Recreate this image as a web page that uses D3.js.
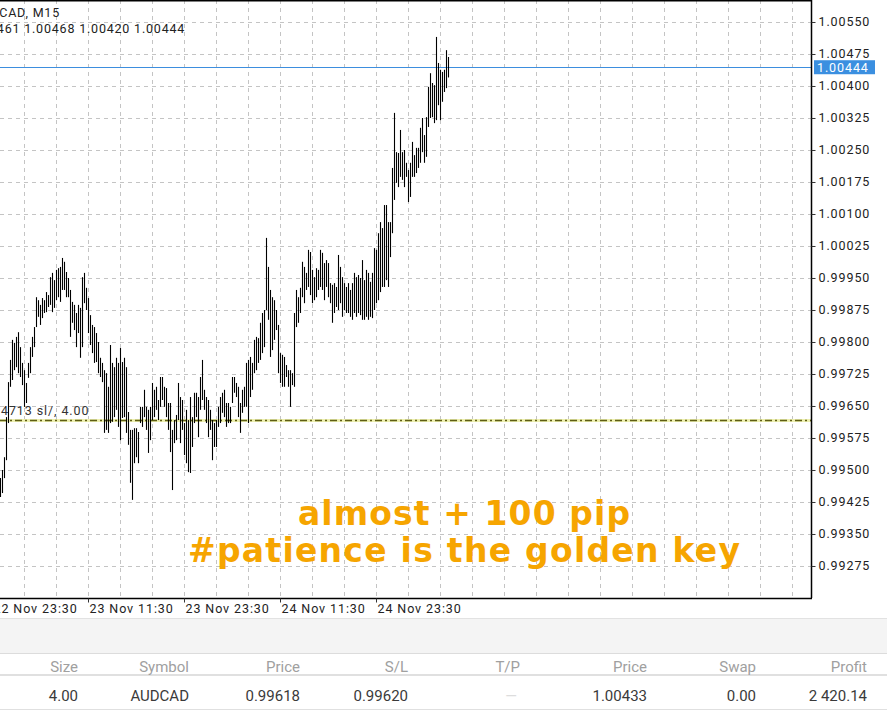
<!DOCTYPE html>
<html><head><meta charset="utf-8">
<script src="https://cdn.jsdelivr.net/npm/d3@7"></script>
<style>body{margin:0;background:#fff;} svg{display:block}</style>
</head><body>
<svg id="c" width="887" height="717"></svg>
<script>
// ---------- DATA ----------
const symbolTitle = "AUDCAD, M15";
const lastOHLC = ["1.00461", "1.00468", "1.00420", "1.00444"];
const firstBarTime = "2020-11-23T00:30";
const highs = [
0.99481,0.99500,0.99530,0.99624,0.99706,0.99758,0.99805,0.99798,0.99812,0.99823,
0.99788,0.99751,0.99734,0.99704,0.99751,0.99788,0.99812,0.99835,0.99905,0.99898,
0.99887,0.99903,0.99898,0.99917,0.99910,0.99952,0.99962,0.99945,0.99969,0.99973,
0.99976,0.99997,0.99988,0.99964,0.99950,0.99922,0.99894,0.99887,0.99868,0.99887,
0.99880,0.99952,0.99962,0.99927,0.99903,0.99863,0.99840,0.99835,0.99821,0.99800,
0.99763,0.99751,0.99734,0.99727,0.99695,0.99793,0.99751,0.99741,0.99763,0.99751,
0.99786,0.99753,0.99763,0.99741,0.99636,0.99594,0.99594,0.99598,0.99598,0.99589,
0.99648,0.99648,0.99688,0.99648,0.99641,
0.99648,0.99704,0.99688,0.99695,0.99664,0.99718,0.99718,0.99695,0.99692,0.99657,
0.99657,0.99594,0.99617,0.99629,0.99704,0.99671,0.99664,0.99610,0.99641,0.99617,
0.99671,0.99624,0.99681,0.99681,0.99671,0.99718,0.99758,0.99688,0.99671,0.99664,
0.99641,0.99617,0.99610,0.99617,0.99648,0.99671,0.99681,0.99688,0.99657,0.99657,
0.99648,0.99718,0.99718,0.99704,0.99695,0.99657,0.99688,0.99695,0.99751,0.99758,
0.99765,0.99751,0.99805,0.99812,0.99809,0.99845,0.99868,0.99875,1.00044,0.99976,
0.99922,0.99905,0.99898,0.99875,0.99840,0.99774,0.99770,0.99765,0.99746,0.99734,
0.99734,0.99727,0.99868,0.99922,0.99905,
0.99927,0.99988,0.99976,0.99962,1.00016,1.00011,0.99969,0.99952,0.99973,0.99969,
1.00016,1.00009,0.99985,0.99992,0.99985,0.99938,0.99934,0.99938,0.99929,1.00004,
0.99976,0.99952,0.99938,0.99929,0.99938,0.99922,0.99938,0.99962,0.99952,0.99957,
0.99950,0.99992,0.99945,0.99969,0.99962,0.99941,0.99962,1.00020,1.00016,1.00055,
1.00081,1.00067,1.00121,1.00121,1.00081,1.00081,1.00208,1.00337,1.00245,1.00243,
1.00297,1.00245,1.00250,1.00220,1.00203,1.00220,1.00269,1.00238,1.00255,1.00255,
1.00302,1.00325,1.00285,1.00327,1.00398,1.00430,1.00407,1.00402,1.00515,1.00454,
1.00438,1.00433,1.00438,1.00484,1.00468
];
const lows = [
0.99437,0.99446,0.99481,0.99523,0.99610,0.99695,0.99711,0.99734,0.99741,0.99727,
0.99718,0.99699,0.99648,0.99657,0.99716,0.99727,0.99765,0.99788,0.99835,0.99859,
0.99840,0.99856,0.99868,0.99870,0.99882,0.99887,0.99870,0.99880,0.99898,0.99905,
0.99894,0.99922,0.99922,0.99905,0.99905,0.99812,0.99845,0.99828,0.99788,0.99821,
0.99763,0.99788,0.99891,0.99875,0.99821,0.99793,0.99774,0.99751,0.99753,0.99727,
0.99718,0.99706,0.99587,0.99594,0.99587,0.99610,0.99613,0.99624,0.99641,0.99601,
0.99570,0.99622,0.99624,0.99587,0.99559,0.99470,0.99430,0.99516,0.99530,0.99516,
0.99610,0.99601,0.99624,0.99594,0.99540,
0.99570,0.99617,0.99624,0.99641,0.99617,0.99648,0.99664,0.99648,0.99624,0.99594,
0.99542,0.99453,0.99563,0.99570,0.99617,0.99563,0.99594,0.99535,0.99516,0.99495,
0.99493,0.99554,0.99610,0.99624,0.99577,0.99641,0.99664,0.99641,0.99610,0.99577,
0.99594,0.99523,0.99554,0.99554,0.99601,0.99610,0.99634,0.99624,0.99601,0.99610,
0.99610,0.99657,0.99681,0.99671,0.99624,0.99587,0.99634,0.99648,0.99648,0.99610,
0.99671,0.99688,0.99727,0.99734,0.99751,0.99758,0.99774,0.99788,0.99875,0.99852,
0.99765,0.99781,0.99805,0.99828,0.99727,0.99704,0.99695,0.99695,0.99718,0.99695,
0.99648,0.99699,0.99695,0.99835,0.99845,
0.99868,0.99905,0.99891,0.99922,0.99929,0.99910,0.99891,0.99898,0.99905,0.99922,
0.99929,0.99922,0.99898,0.99929,0.99905,0.99891,0.99845,0.99868,0.99882,0.99875,
0.99891,0.99859,0.99875,0.99868,0.99868,0.99859,0.99852,0.99868,0.99859,0.99868,
0.99863,0.99852,0.99852,0.99859,0.99852,0.99859,0.99856,0.99875,0.99891,0.99898,
0.99917,0.99929,0.99929,0.99945,0.99929,0.99999,1.00055,1.00133,1.00173,1.00163,
1.00187,1.00180,1.00163,1.00187,1.00128,1.00140,1.00187,1.00187,1.00196,1.00208,
1.00220,1.00245,1.00220,1.00234,1.00304,1.00325,1.00327,1.00313,1.00320,1.00355,
1.00320,1.00363,1.00386,1.00395,1.00420
];
const priceTicks = [0.99275,0.99350,0.99425,0.99500,0.99575,0.99650,0.99725,0.99800,0.99875,
  0.99950,1.00025,1.00100,1.00175,1.00250,1.00325,1.00400,1.00475,1.00550];
const timeLabelTicks = ["2020-11-22T23:30","2020-11-23T11:30","2020-11-23T23:30","2020-11-24T11:30","2020-11-24T23:30"];
const currentPrice = 1.00444;
const slPrice = 0.99618;
const slLabel = "4713 sl/, 4.00";
const captions = ["almost + 100 pip", "#patience is the golden key"];
const tableHeaders = ["Size","Symbol","Price","S/L","T/P","Price","Swap","Profit"];
const tableRow = ["4.00","AUDCAD","0.99618","0.99620","\u2014","1.00433","0.00","2 420.14"];

// ---------- LAYOUT ----------
const svg = d3.select("#c");
svg.append("rect").attr("width",887).attr("height",717).attr("fill","#fff");
const R = 811, B = 598;
const barMs = 15*60*1000;
const parse = d3.utcParse("%Y-%m-%dT%H:%M");
const t0 = parse(firstBarTime);
const x = d3.scaleUtc().domain([t0, new Date(+t0 + 405*barMs)]).range([0, 810]);
const y = d3.scaleLinear().domain([0.99200, 1.0060156]).range([B, 0]);
const font = "Roboto, 'DejaVu Sans', sans-serif";

svg.append("defs").append("clipPath").attr("id","pc")
  .append("rect").attr("x",0).attr("y",0).attr("width",R).attr("height",B);
const plot = svg.append("g").attr("clip-path","url(#pc)");

// grid
const gridTimes = d3.range(+parse("2020-11-22T23:30"), +x.domain()[1], 4*3600*1000).map(d=>new Date(d));
plot.selectAll(".vg").data(gridTimes).join("line")
  .attr("x1",d=>Math.round(x(d))+0.5).attr("x2",d=>Math.round(x(d))+0.5)
  .attr("y1",0).attr("y2",B)
  .attr("stroke","#c4c4c4").attr("stroke-dasharray","4,4");
plot.selectAll(".hg").data(priceTicks).join("line")
  .attr("x1",0).attr("x2",R)
  .attr("y1",d=>Math.round(y(d))+0.5).attr("y2",d=>Math.round(y(d))+0.5)
  .attr("stroke","#c4c4c4").attr("stroke-dasharray","4,4");

// current price line
plot.append("line").attr("x1",0).attr("x2",R)
  .attr("y1",Math.round(y(currentPrice))+0.5).attr("y2",Math.round(y(currentPrice))+0.5)
  .attr("stroke","#3d8ede").attr("stroke-width",1.2);

// SL line
plot.append("line").attr("x1",0).attr("x2",R)
  .attr("y1",Math.round(y(slPrice))+0.5).attr("y2",Math.round(y(slPrice))+0.5)
  .attr("stroke","#eef0b0").attr("stroke-width",3);
plot.append("line").attr("x1",0).attr("x2",R)
  .attr("y1",Math.round(y(slPrice))+0.5).attr("y2",Math.round(y(slPrice))+0.5)
  .attr("stroke","#5e5e14").attr("stroke-width",1.5).attr("stroke-dasharray","7,3,2,3");
plot.append("text").attr("x",1).attr("y",Math.round(y(slPrice))-5)
  .attr("font-family",font).attr("font-size",12.5).attr("letter-spacing",0.9)
  .attr("fill","#333").text(slLabel);

// bars
const bars = highs.map((h,i)=>({t:new Date(+t0 + i*barMs), h, l:lows[i]}));
plot.selectAll(".bar").data(bars).join("line")
  .attr("x1",d=>Math.round(x(d.t))+0.5).attr("x2",d=>Math.round(x(d.t))+0.5)
  .attr("y1",d=>y(d.h)).attr("y2",d=>y(d.l))
  .attr("stroke","#000").attr("stroke-width",1.1);

// header text
const hdr = plot.append("g").attr("font-family",font).attr("font-size",12.5).attr("letter-spacing",0.8).attr("fill","#222");
const t1 = hdr.append("text").attr("y",17).text(symbolTitle);
const pre1 = hdr.append("text").attr("opacity",0).text("AUD");
t1.attr("x", 0 - pre1.node().getComputedTextLength() - 0.8);
const t2 = hdr.append("text").attr("y",33).text(lastOHLC.join(" "));
const pre2 = hdr.append("text").attr("opacity",0).text("1.00");
t2.attr("x", 0 - pre2.node().getComputedTextLength() - 3.2);
pre1.remove(); pre2.remove();

// borders
svg.append("line").attr("x1",0).attr("x2",R+1).attr("y1",0.75).attr("y2",0.75).attr("stroke","#000").attr("stroke-width",1.5);

// right axis
const yAxis = d3.axisRight(y).tickValues(priceTicks).tickSize(4).tickPadding(3)
  .tickFormat(d3.format(".5f"));
const ya = svg.append("g").attr("transform",`translate(${R+0.5},0)`).call(yAxis);
ya.select(".domain").attr("d",`M0,0V${B}`).attr("stroke","#000").attr("stroke-width",1.5);
ya.selectAll(".tick line").attr("stroke","#333");
ya.selectAll("text").attr("font-family",font).attr("font-size",12.5).attr("letter-spacing",0.9).attr("fill","#222");

// bottom axis
const xAxis = d3.axisBottom(x).tickValues(timeLabelTicks.map(parse)).tickSize(4).tickPadding(4)
  .tickFormat(d3.utcFormat("%d %b %H:%M"));
const xa = svg.append("g").attr("transform",`translate(0,${B+0.5})`).call(xAxis);
xa.select(".domain").attr("d",`M0,0H${R+1}`).attr("stroke","#000").attr("stroke-width",1.5);
xa.selectAll(".tick line").attr("stroke","#333");
xa.selectAll("text").attr("text-anchor","start").attr("dx",1).attr("dy","0.5em")
  .attr("font-family",font).attr("font-size",12.5).attr("letter-spacing",0.9).attr("fill","#222");

// current price label box
const cy = y(currentPrice);
svg.append("rect").attr("x",R+3).attr("y",cy-7).attr("width",61).attr("height",14).attr("fill","#3b8fe0");
svg.append("text").attr("x",R+6).attr("y",cy+4.5).attr("font-family",font).attr("font-size",12.5)
  .attr("letter-spacing",0.9).attr("fill","#fff").text(d3.format(".5f")(currentPrice));

// captions
const cap = svg.append("g").attr("font-family","'DejaVu Sans', sans-serif").attr("font-weight","bold")
  .attr("font-size",33).attr("fill","#f6a500");
cap.append("text").attr("x",298).attr("y",525).attr("textLength",332).text(captions[0]);
cap.append("text").attr("x",188).attr("y",562).attr("textLength",552).text(captions[1]);

// table
svg.append("rect").attr("x",0).attr("y",618).attr("width",887).attr("height",35).attr("fill","#f4f4f4");
svg.append("line").attr("x1",0).attr("x2",887).attr("y1",618.5).attr("y2",618.5).attr("stroke","#e2e2e2");
svg.append("line").attr("x1",0).attr("x2",887).attr("y1",653.5).attr("y2",653.5).attr("stroke","#dcdcdc");
svg.append("line").attr("x1",0).attr("x2",887).attr("y1",675).attr("y2",675).attr("stroke","#e0e0e0").attr("stroke-width",2);
svg.append("line").attr("x1",0).attr("x2",887).attr("y1",709.5).attr("y2",709.5).attr("stroke","#e0e0e0");
const colRight = [78,189,300,408,520,647,756,867];
const tf = "'Liberation Sans Narrow', Roboto, sans-serif";
svg.append("g").selectAll("text").data(tableHeaders).join("text")
  .attr("x",(d,i)=>colRight[i]).attr("y",672).attr("text-anchor","end")
  .attr("font-family",tf).attr("font-size",15).attr("fill","#a0a0a0").text(d=>d);
svg.append("g").selectAll("text").data(tableRow).join("text")
  .attr("x",(d,i)=>i===4?517:colRight[i]).attr("y",701).attr("text-anchor","end")
  .attr("font-family",tf).attr("font-size",15).attr("fill",(d,i)=>i===4?"#dddddd":"#3a3a3a").text(d=>d);
</script>
</body></html>
